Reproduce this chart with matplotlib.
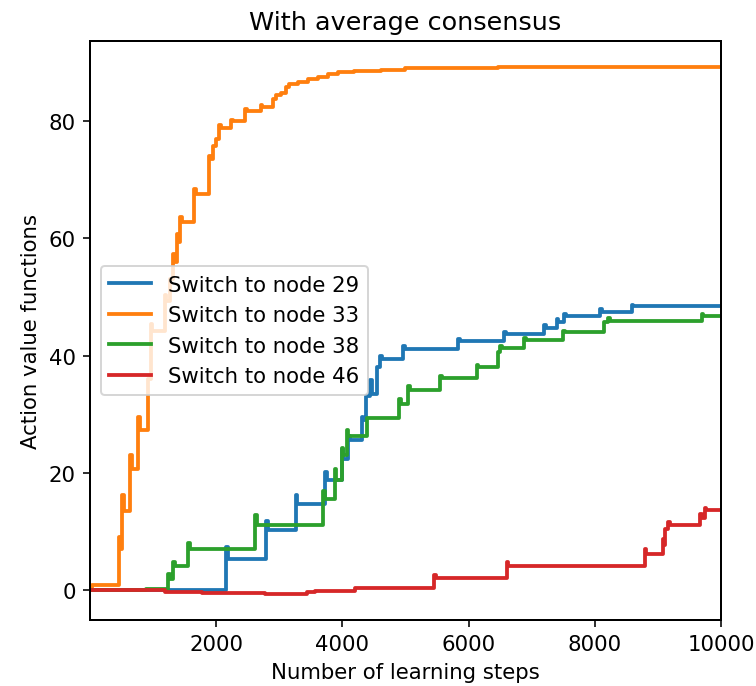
import matplotlib
matplotlib.use("Agg")
import matplotlib.pyplot as plt

# Step data (learning step, action value)
blue_x = [0, 2162, 2190, 2796, 2825, 3257, 3285, 3720, 3748, 3986, 4010, 4091, 4115, 4302, 4325,
          4371, 4434, 4470, 4553, 4592, 4620, 4962, 4990, 5834, 5860, 6563, 6590, 7196, 7225,
          7392, 7420, 7508, 7535, 8078, 8105, 8580, 8605, 10000]
blue_y = [0.0, 7.4, 5.4, 11.9, 10.3, 16.3, 14.8, 20.2, 18.9, 24.1, 22.4, 26.4, 25.7, 29.5, 29.0,
          33.2, 35.8, 33.5, 38.0, 40.0, 39.5, 41.7, 41.1, 42.9, 42.5, 44.1, 43.7, 45.3, 44.75,
          46.3, 45.7, 47.1, 46.8, 47.9, 47.5, 48.7, 48.45, 48.45]

orange_x = [0, 25, 463, 490, 511, 540, 633, 660, 764, 790, 923, 962, 990, 1187, 1210, 1267, 1319,
            1345, 1382, 1405, 1430, 1455, 1651, 1675, 1889, 1915, 1952, 2000, 2048, 2075, 2242,
            2265, 2455, 2480, 2708, 2730, 2903, 2950, 3030, 3109, 3156, 3299, 3457, 3616, 3766,
            3933, 4186, 4613, 4994, 5754, 6467, 10000]
orange_y = [0.0, 0.85, 9.1, 7.0, 16.2, 13.6, 23.0, 20.7, 29.6, 27.3, 36.0, 45.4, 44.3, 50.3, 49.4,
            53.0, 57.3, 56.0, 60.8, 59.4, 63.7, 62.8, 68.4, 67.5, 74.1, 73.5, 75.8, 77.0, 79.3,
            78.8, 80.2, 80.0, 82.0, 81.7, 82.7, 82.4, 83.8, 84.4, 84.8, 85.8, 86.3, 86.7, 87.1,
            87.5, 88.0, 88.3, 88.5, 88.75, 89.0, 89.1, 89.15, 89.15]

green_x = [0, 890, 920, 1239, 1265, 1319, 1345, 1556, 1580, 2613, 2640, 3695, 3720, 3880, 3905,
           3986, 4010, 4065, 4090, 4382, 4899, 4925, 5042, 5070, 5544, 5570, 6124, 6150, 6456,
           6494, 6520, 6879, 6905, 7497, 7525, 8146, 8210, 8235, 9688, 9715, 10000]
green_y = [0.0, 0.3, 0.2, 2.8, 1.9, 4.9, 4.2, 8.1, 7.0, 12.8, 11.2, 17.0, 15.6, 20.7, 18.9,
           24.3, 23.0, 27.3, 26.4, 29.4, 32.7, 31.8, 34.8, 34.2, 36.6, 36.2, 38.5, 38.1, 40.6,
           41.7, 41.3, 43.0, 42.6, 44.3, 44.0, 45.7, 46.4, 46.0, 47.1, 46.85, 46.85]

red_x = [0, 1187, 1767, 2772, 3431, 3563, 4197, 5454, 5480, 6599, 6625, 8791, 8815, 9070, 9095,
         9108, 9160, 9185, 9663, 9690, 9742, 9765, 10000]
red_y = [0.0, -0.28, -0.4, -0.56, -0.28, -0.1, 0.5, 2.56, 2.1, 4.8, 4.15, 7.0, 6.2, 8.7, 7.8,
         10.4, 11.75, 11.2, 13.1, 12.4, 14.1, 13.75, 13.75]

labels = ["Switch to node 29", "Switch to node 33", "Switch to node 38", "Switch to node 46"]
colors = ["#1f77b4", "#ff7f0e", "#2ca02c", "#d62728"]
x_ticks = [2000, 4000, 6000, 8000, 10000]

plt.rcParams["font.size"] = 10.6
plt.rcParams["axes.linewidth"] = 1.0

fig = plt.figure(figsize=(5.25, 4.77), dpi=144)
ax = fig.add_axes([0.119, 0.096, 0.835, 0.843])

series = [(blue_x, blue_y), (orange_x, orange_y), (green_x, green_y), (red_x, red_y)]
for (xs, ys), lab, col in zip(series, labels, colors):
    ax.step(xs, ys, where="post", color=col, label=lab, linewidth=1.9)

ax.set_xlim(0, 10000)
ax.set_xticks(x_ticks)
ax.set_title("With average consensus")
ax.set_xlabel("Number of learning steps")
ax.set_ylabel("Action value functions")
ax.legend(loc="center left")

fig.savefig("out.png", dpi=144)
